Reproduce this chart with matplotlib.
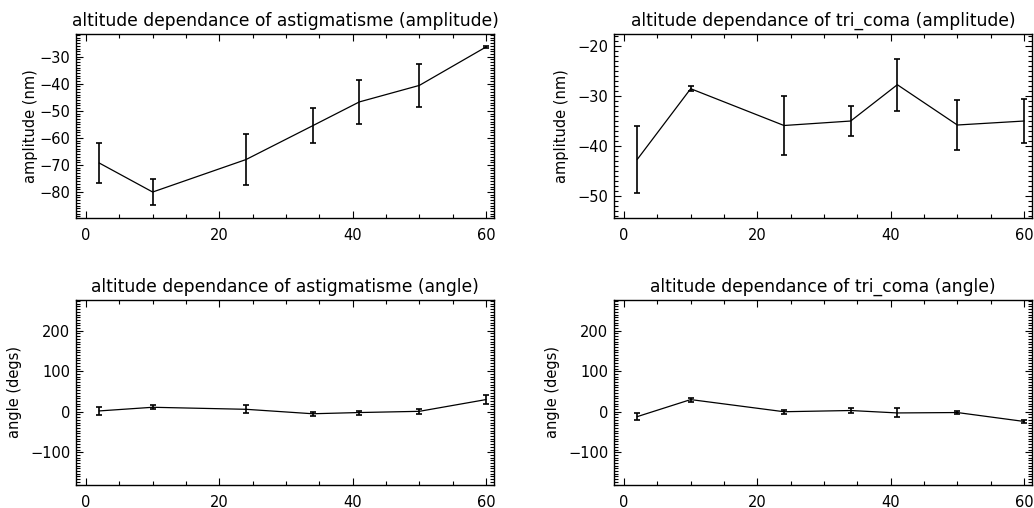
import matplotlib
matplotlib.use('Agg')
import matplotlib.pyplot as plt
from matplotlib.ticker import MultipleLocator

altitude = [2, 10, 24, 34, 41, 50, 60]

astig_amp = [-69.3, -80.0, -68.0, -55.5, -46.7, -40.6, -26.4]
astig_amp_err = [7.5, 4.7, 9.5, 6.4, 8.1, 7.8, 0.4]

tricoma_amp = [-42.7, -28.5, -35.9, -35.0, -27.7, -35.8, -35.0]
tricoma_amp_err = [6.7, 0.5, 6.0, 3.0, 5.2, 5.0, 4.5]

astig_ang = [2, 11, 6, -5, -2, 1, 30]
astig_ang_err = [10, 5, 10, 5, 5, 6, 12]

tricoma_ang = [-12, 30, 0, 3, -3, -2, -24]
tricoma_ang_err = [8, 5, 5, 6, 11, 4, 4]

plt.rcParams['font.family'] = 'DejaVu Sans'

W, H = 1034, 508
fig = plt.figure(figsize=(W / 100, H / 100), dpi=100)


def panel(left, top, bottom, x, y, err, title, ylabel, ylim, minor, lpad=6):
    ax = fig.add_axes([left / W, (H - bottom) / H, 418 / W, (bottom - top) / H])
    ax.errorbar(x, y, yerr=err, color='black', lw=0.9, elinewidth=1.2,
                capsize=2.2, capthick=1.2)
    ax.set_xlim(-1.5, 61.2)
    ax.set_ylim(*ylim)
    ax.xaxis.set_major_locator(MultipleLocator(20))
    ax.xaxis.set_minor_locator(MultipleLocator(5))
    ax.yaxis.set_minor_locator(MultipleLocator(minor))
    ax.tick_params(which='both', direction='in', top=True, right=True,
                   width=0.8, labelsize=10.5)
    ax.tick_params(which='major', length=5)
    ax.tick_params(which='minor', length=3)
    ax.tick_params(axis='x', pad=7)
    ax.tick_params(axis='y', pad=4)
    for s in ax.spines.values():
        s.set_linewidth(1.0)
    ax.set_title(title, fontsize=12.3, pad=6)
    ax.set_ylabel(ylabel, fontsize=10.5, labelpad=lpad)
    return ax


ax1 = panel(76, 34, 218, altitude, astig_amp, astig_amp_err,
            'altitude dependance of astigmatisme (amplitude)', 'amplitude (nm)',
            (-89.6, -21.6), 1, lpad=1)
ax1.yaxis.set_major_locator(MultipleLocator(10))

ax2 = panel(614, 34, 218, altitude, tricoma_amp, tricoma_amp_err,
            'altitude dependance of tri_coma (amplitude)', 'amplitude (nm)',
            (-54.5, -17.5), 1)
ax2.yaxis.set_major_locator(MultipleLocator(10))

ax3 = panel(76, 300, 485, altitude, astig_ang, astig_ang_err,
            'altitude dependance of astigmatisme (angle)', 'angle (degs)',
            (-181, 276), 100 / 15)
ax3.yaxis.set_major_locator(MultipleLocator(100))

ax4 = panel(614, 300, 485, altitude, tricoma_ang, tricoma_ang_err,
            'altitude dependance of tri_coma (angle)', 'angle (degs)',
            (-181, 276), 100 / 15)
ax4.yaxis.set_major_locator(MultipleLocator(100))

fig.savefig('out.png', dpi=100)
